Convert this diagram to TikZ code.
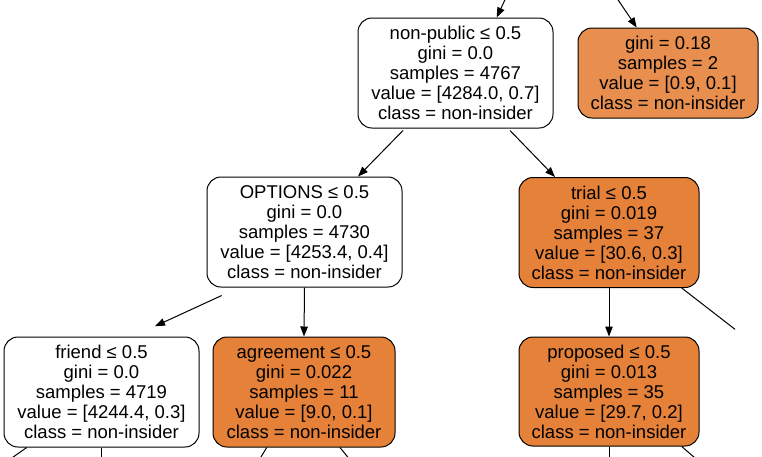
\documentclass[tikz,border=0pt]{standalone}
\usepackage{fontspec}
\setmainfont{Liberation Sans}
\usetikzlibrary{arrows.meta}
\definecolor{gvorange}{HTML}{E58139}
\definecolor{gvlight}{HTML}{E88F4F}

\begin{document}
\begin{tikzpicture}[x=1pt, y=-1pt, >={Triangle[length=10pt,width=7.5pt]},
  split/.style={draw, rounded corners=14pt, line width=1pt, align=center, inner sep=0pt,
    minimum width=195pt, minimum height=110pt, font=\fontsize{18.5}{20}\selectfont},
  hot/.style={split, fill=gvorange, minimum width=181pt},
  edge/.style={->, line width=1pt},
  stub/.style={line width=1pt}]
  \clip (0,0) rectangle (762,456);

  \node[split] (np) at (455.5,73) {non-public ≤ 0.5\\gini = 0.0\\samples = 4767\\value = [4284.0, 0.7]\\class = non-insider};
  \node[hot, fill=gvlight, minimum width=180pt, minimum height=90pt] (lf) at (668,73) {gini = 0.18\\samples = 2\\value = [0.9, 0.1]\\class = non-insider};
  \node[split] (opt) at (304.5,232) {OPTIONS ≤ 0.5\\gini = 0.0\\samples = 4730\\value = [4253.4, 0.4]\\class = non-insider};
  \node[hot, minimum width=180pt] (trial) at (609,232.5) {trial ≤ 0.5\\gini = 0.019\\samples = 37\\value = [30.6, 0.3]\\class = non-insider};
  \node[split] (friend) at (101.5,392) {friend ≤ 0.5\\gini = 0.0\\samples = 4719\\value = [4244.4, 0.3]\\class = non-insider};
  \node[hot, minimum width=182pt] (agree) at (304,392) {agreement ≤ 0.5\\gini = 0.022\\samples = 11\\value = [9.0, 0.1]\\class = non-insider};
  \node[hot, minimum width=180pt, minimum height=109pt] (prop) at (609,391.5) {proposed ≤ 0.5\\gini = 0.013\\samples = 35\\value = [29.7, 0.2]\\class = non-insider};

  % loose ends leaving the picture
  \coordinate (in1) at (509.5,-10);
  \coordinate (in2) at (611.4,-10);
  \coordinate (out1) at (735,329.3);
  \coordinate (bf1) at (0.4,466);
  \coordinate (bf2) at (101.5,466);
  \coordinate (ba1) at (255.5,466);
  \coordinate (ba2) at (355,466);
  \coordinate (bp1) at (609,466);
  \coordinate (bp2) at (704.3,466);

  % edges
  \draw[edge] (in1) -- ([xshift=41.2pt]np.north);
  \draw[edge] (in2) -- ([xshift=-31.3pt]lf.north);
  \draw[edge] ([xshift=-52.5pt,yshift=-2pt]np.south) -- ([xshift=53.5pt]opt.north);
  \draw[edge] ([xshift=54.5pt,yshift=-2pt]np.south) -- ([xshift=-54pt]trial.north);
  \draw[edge] ([xshift=-82.8pt,yshift=-8pt]opt.south) -- ([xshift=53.5pt,yshift=10.3pt]friend.north);
  \draw[edge] (opt.south) -- (agree.north);
  \draw[edge] (trial.south) -- (prop.north);
  \draw[stub] ([xshift=72.7pt]trial.south) -- (out1);
  \draw[stub] ([xshift=-74.8pt]friend.south) -- (bf1);
  \draw[stub] (friend.south) -- (bf2);
  \draw[stub] ([xshift=-37.3pt]agree.south) -- (ba1);
  \draw[stub] ([xshift=36pt]agree.south) -- (ba2);
  \draw[stub] (prop.south) -- (bp1);
  \draw[stub] ([xshift=72.7pt]prop.south) -- (bp2);
\end{tikzpicture}
\end{document}
